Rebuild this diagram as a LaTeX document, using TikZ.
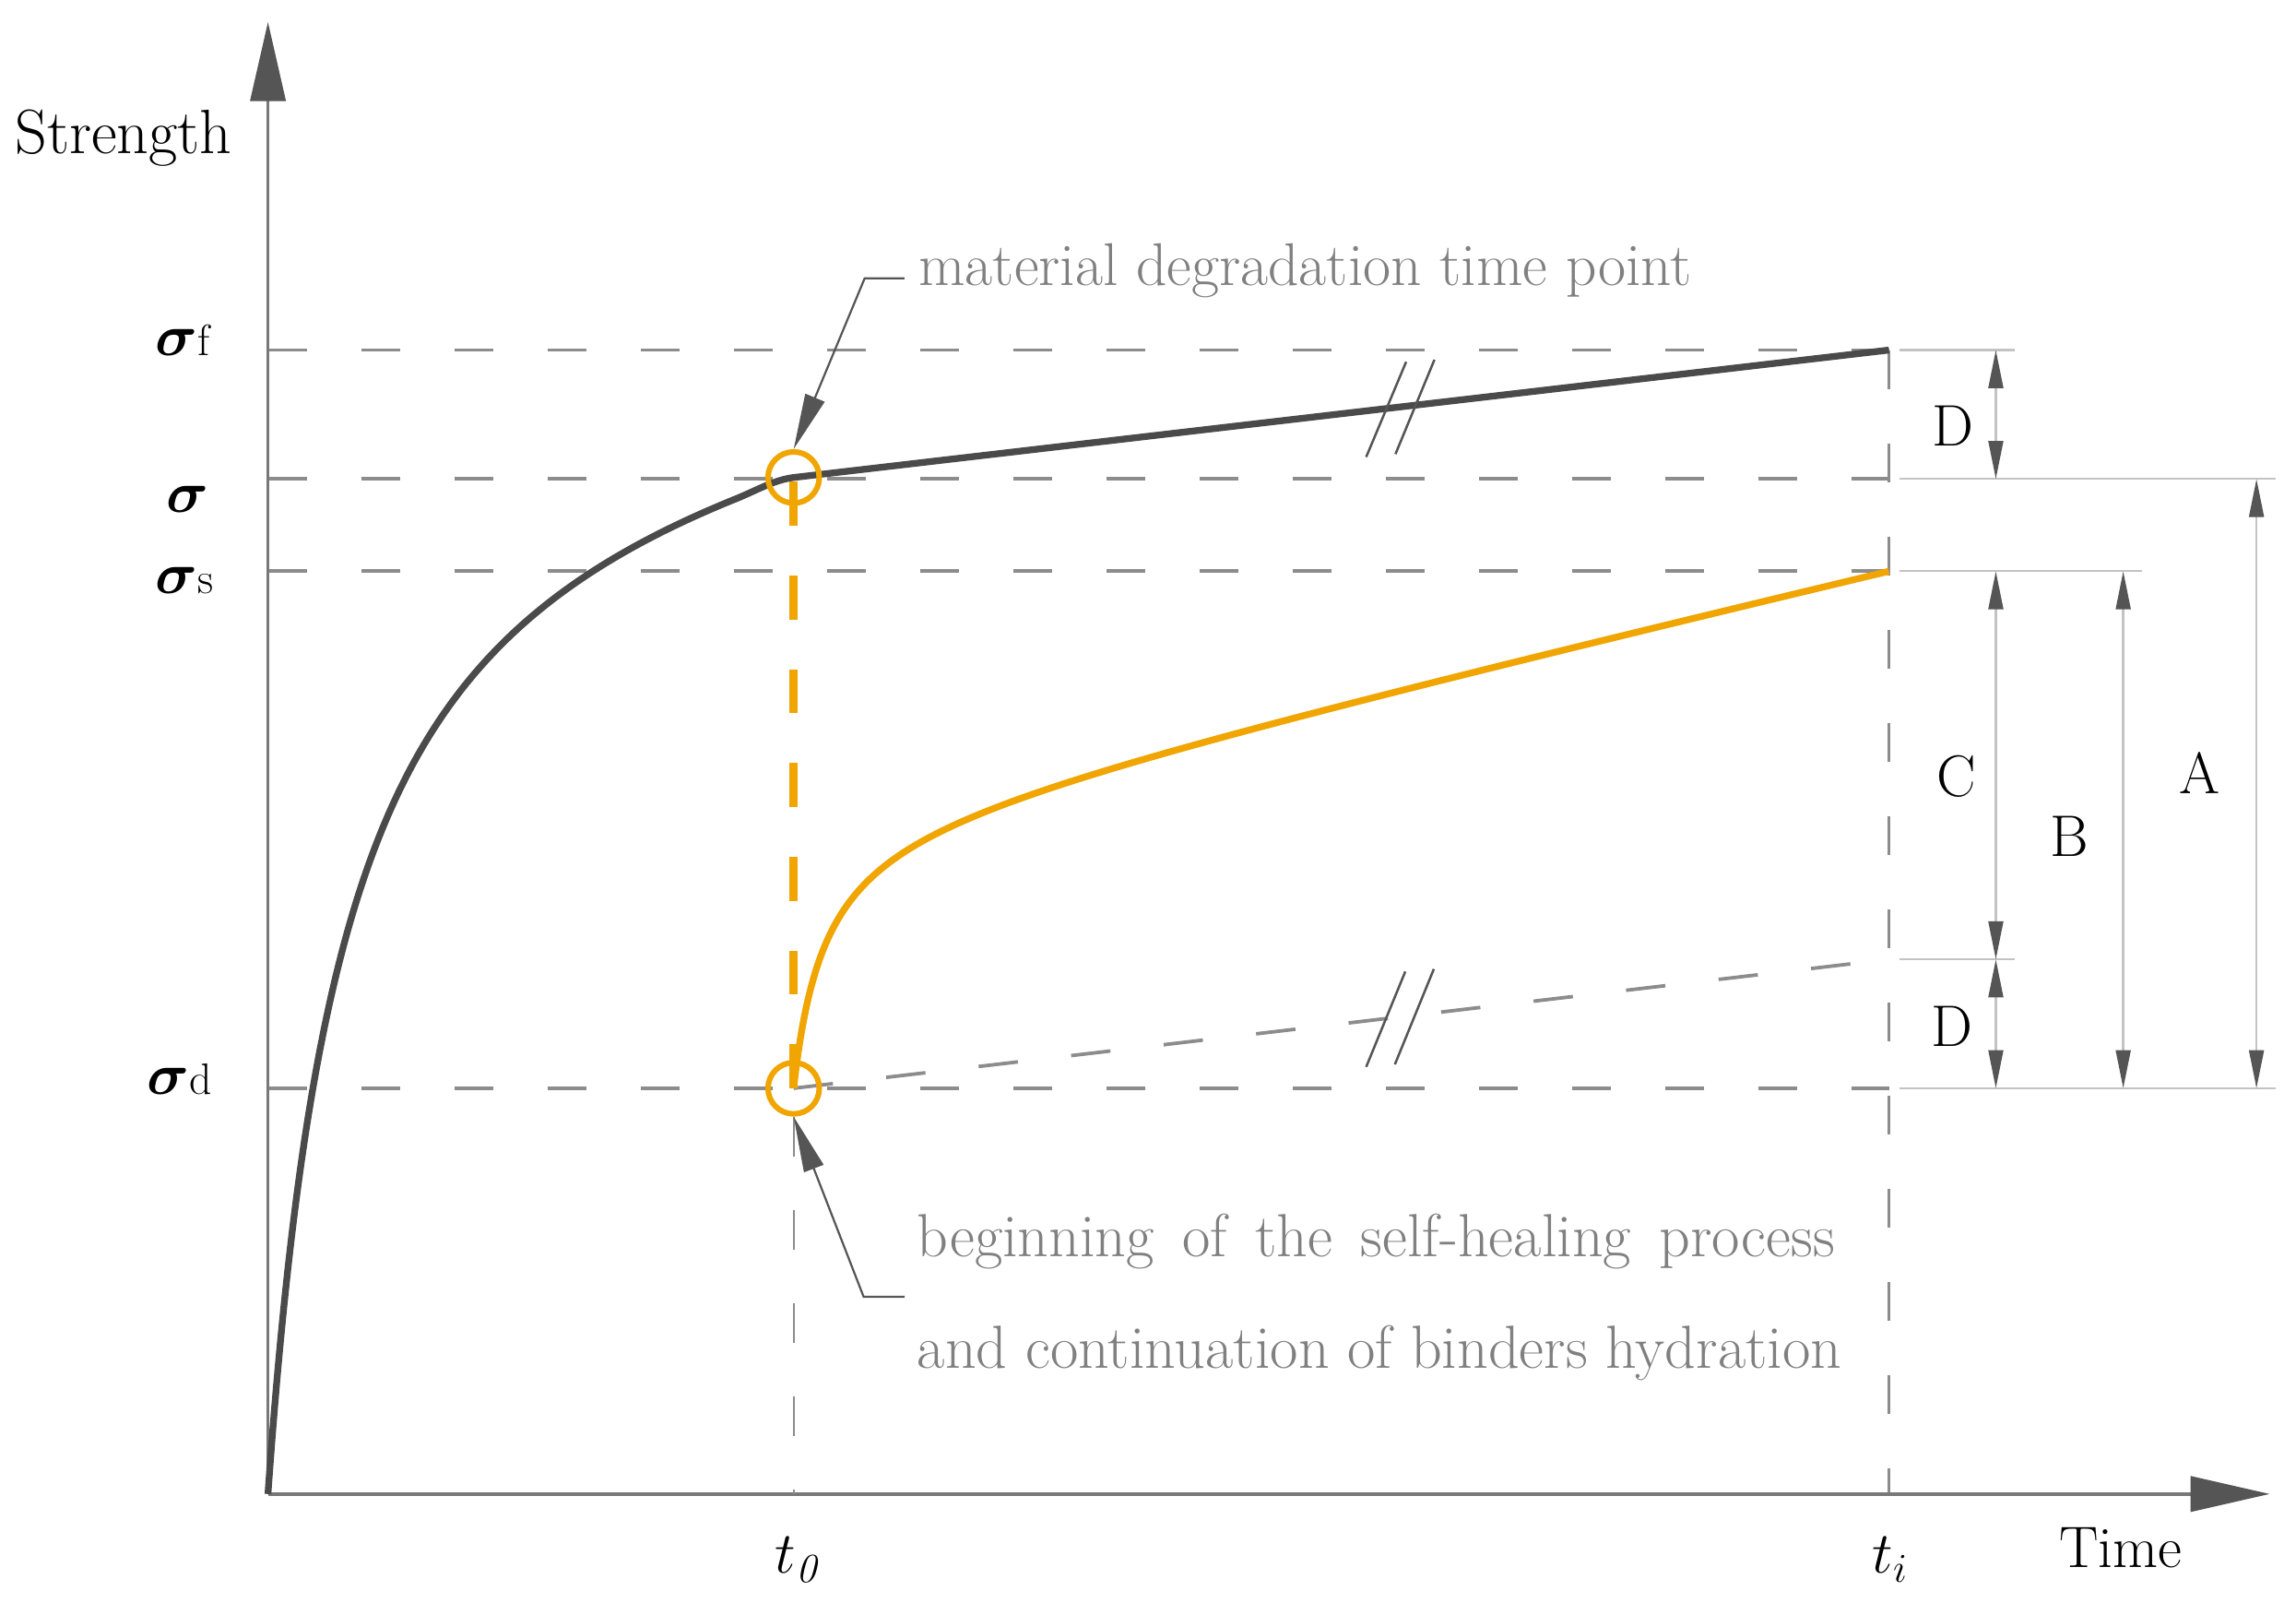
\documentclass[tikz,border=0pt]{standalone}
\usepackage{fix-cm}
\usepackage{bm}
\usepackage{fontspec}
\usetikzlibrary{arrows.meta}
\definecolor{axisgray}{RGB}{120,120,120}
\definecolor{headgray}{RGB}{85,85,85}
\definecolor{curvegray}{RGB}{74,74,74}
\definecolor{dashgray}{RGB}{140,140,140}
\definecolor{dimgray}{RGB}{195,195,195}
\definecolor{txtgray}{RGB}{128,128,128}
\definecolor{heal}{RGB}{240,165,0}
\newcommand{\lblsz}{\fontsize{20}{24}\selectfont}
\newcommand{\bigsz}{\fontsize{21.4}{25}\selectfont}
\newcommand{\subsz}{\fontsize{15}{15}\selectfont}
\newcommand{\topnotesz}{\fontsize{20.6}{24}\selectfont}
\newcommand{\notesz}{\fontsize{20.8}{25}\selectfont}
\tikzset{
  axisline/.style={draw=axisgray, line width=1.1pt, -{Triangle[length=27pt,width=12pt,color=headgray]}},
  guide/.style={draw=dashgray, line width=1.2pt, dash pattern=on 13.5pt off 18.3pt},
  thinguide/.style={draw=dashgray, line width=0.7pt, dash pattern=on 13.5pt off 18.3pt},
  extline/.style={draw=dimgray, line width=0.7pt},
  dimarrow/.style={draw=dimgray, line width=0.8pt,
     {Triangle[length=13pt,width=5pt,color=headgray]}-{Triangle[length=13pt,width=5pt,color=headgray]}},
  mainline/.style={draw=curvegray, line width=2.3pt, line join=round},
  healline/.style={draw=heal, line width=2.3pt, line join=round},
  healdash/.style={draw=heal, line width=3pt, dash pattern=on 15pt off 17pt},
  breakmark/.style={draw=headgray, line width=0.8pt},
  marker/.style={circle, draw=heal, line width=1.9pt, minimum size=17.5pt, inner sep=0pt},
  leader/.style={draw=headgray, line width=0.7pt, -{Triangle[length=19pt,width=7pt]}},
  lbl/.style={font=\lblsz, inner sep=0pt},
  note/.style={font=\notesz, text=txtgray, inner sep=0pt, anchor=base west},
}
\begin{document}
\begin{tikzpicture}[x=0.5pt,y=-0.5pt]
\useasboundingbox (0,0) rectangle (1568,1094);

% key coordinates
\coordinate (O) at (183,1020);
\coordinate (Ytip) at (183,15);
\coordinate (Xtip) at (1550,1020);
\coordinate (Lf) at (183,239);
\coordinate (Lsig) at (183,327);
\coordinate (Ls) at (183,390);
\coordinate (Ld) at (183,743);
\coordinate (Tf) at (1290,239);
\coordinate (Tsig) at (1290,327);
\coordinate (Ts) at (1290,390);
\coordinate (Td) at (1290,743);
\coordinate (Tm) at (1290,655);
\coordinate (Tb) at (1290,1020);
\coordinate (B0) at (542,1020);
\coordinate (K0) at (542,326);
\coordinate (H0) at (542,743);
\coordinate (Htop) at (542,329);

% guide lines
\draw[guide] (Lf) -- (Tf);
\draw[guide] (Lsig) -- (Tsig);
\draw[guide] (Ls) -- (Ts);
\draw[guide] (Ld) -- (Td);
\draw[guide] (Tf) -- (Tb);
\draw[guide] (H0) -- (Tm);

% extension lines
\coordinate (Ef1) at (1297,239);  \coordinate (Ef2) at (1376,239);
\coordinate (Es1) at (1297,327);  \coordinate (Es2) at (1554,327);
\coordinate (Ess1) at (1297,390); \coordinate (Ess2) at (1463,390);
\coordinate (Em1) at (1297,655);  \coordinate (Em2) at (1376,655);
\coordinate (Ed1) at (1297,743);  \coordinate (Ed2) at (1554,743);
\draw[extline] (Ef1) -- (Ef2);
\draw[extline] (Es1) -- (Es2);
\draw[extline] (Ess1) -- (Ess2);
\draw[extline] (Em1) -- (Em2);
\draw[extline] (Ed1) -- (Ed2);

% dimension arrows
\coordinate (dD1a) at (1363,239); \coordinate (dD1b) at (1363,327);
\coordinate (dCa) at (1363,390);  \coordinate (dCb) at (1363,655);
\coordinate (dD2a) at (1363,655); \coordinate (dD2b) at (1363,743);
\coordinate (dBa) at (1450,390);  \coordinate (dBb) at (1450,743);
\coordinate (dAa) at (1541,327);  \coordinate (dAb) at (1541,743);
\draw[dimarrow] (dD1a) -- (dD1b);
\draw[dimarrow] (dCa) -- (dCb);
\draw[dimarrow] (dD2a) -- (dD2b);
\draw[dimarrow] (dBa) -- (dBb);
\draw[dimarrow] (dAa) -- (dAb);
\node[lbl] (labD1) at (1334,291) {D};
\node[lbl] (labC) at (1336,530) {C};
\node[lbl] (labD2) at (1333,701) {D};
\node[lbl] (labB) at (1413,571) {B};
\node[lbl] (labA) at (1502,528) {A};

% axes
\draw[axisline] (O) -- (Ytip);
\draw[axisline] (O) -- (Xtip);

% main strength curve
\coordinate (mc1) at (516,335.1);
\coordinate (mc2) at (529,327.5);
\draw[mainline] plot[domain=0:17.8885, samples=220, variable=\t]
   ({183+\t*\t},{1020-(750.1*(\t*\t/(53.5+\t*\t))+0.1155*\t*\t)})
   .. controls (mc1) and (mc2) .. (K0) -- (Tf);

% healing curve
\draw[healline] plot[domain=0:27.3496, samples=260, variable=\t]
   ({542+\t*\t},{743-(183.8*(\t*\t/(21.1+\t*\t))+0.2329*\t*\t)});

% markers and t0 guide
\node[marker] (c1) at (K0) {};
\node[marker] (c2) at (H0) {};
\draw[thinguide] (c2.south) -- (B0);
\draw[healdash] (Htop) -- (H0);

% break marks
\coordinate (bu1a) at (933,312);   \coordinate (bu1b) at (960.3,247);
\coordinate (bu2a) at (953,310);   \coordinate (bu2b) at (979.6,245.6);
\coordinate (bl1a) at (933,728.4); \coordinate (bl1b) at (959.7,663.3);
\coordinate (bl2a) at (952.6,726.7); \coordinate (bl2b) at (979.2,661.6);
\draw[breakmark] (bu1a) -- (bu1b);
\draw[breakmark] (bu2a) -- (bu2b);
\draw[breakmark] (bl1a) -- (bl1b);
\draw[breakmark] (bl2a) -- (bl2b);

% annotations
\node[note, font=\topnotesz] (n1) at (627,195) {material degradation time point};
\coordinate (n1e) at (617.6,190);
\coordinate (n1k) at (590.5,190);
\draw[leader] (n1e) -- (n1k) -- (c1.north);

\node[note] (n2) at (626,858) {\spaceskip=9.6pt plus 2pt\relax beginning of the self-healing process};
\node[note] (n3) at (626,934) {and continuation of binders hydration};
\coordinate (n2e) at (617.8,885.4);
\coordinate (n2k) at (589.8,885.4);
\draw[leader] (n2e) -- (n2k) -- (c2.south);

% axis labels
\node[lbl, font=\bigsz, anchor=base west] (ylab) at (10,105) {Strength};
\node[lbl, anchor=base west] (xlab) at (1406,1070) {Time};
\node[lbl, anchor=base] (lt0) at (544,1074) {$t_{\mathit{0}}$};
\node[lbl, anchor=base] (lti) at (1291,1074) {$t_i$};
\node[lbl, anchor=base east] (lsf) at (144,243) {$\bm{\sigma}${\subsz f}};
\node[lbl, anchor=base] (lsig) at (128,350) {$\bm{\sigma}$};
\node[lbl, anchor=base east] (lss) at (146,405) {$\bm{\sigma}${\subsz s}};
\node[lbl, anchor=base east] (lsd) at (145,747) {$\bm{\sigma}${\subsz d}};
\end{tikzpicture}
\end{document}
